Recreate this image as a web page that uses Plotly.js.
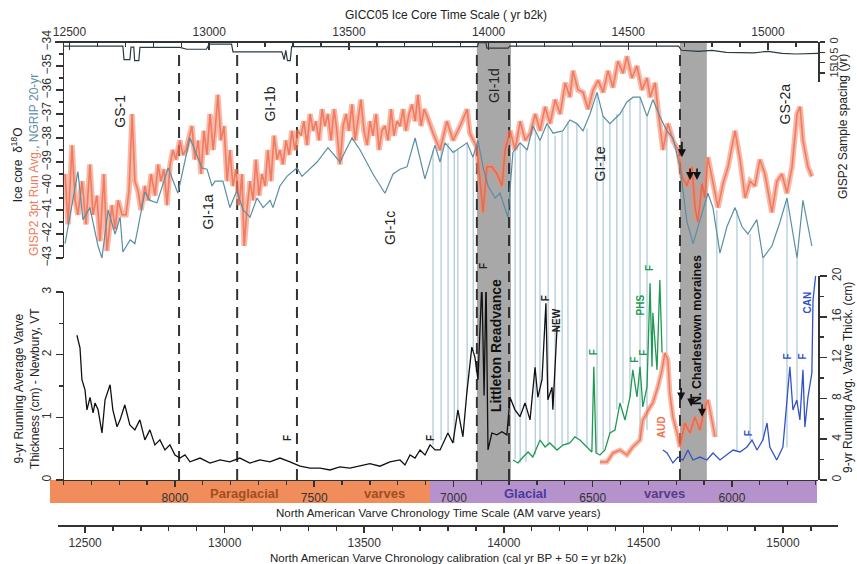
<!DOCTYPE html>
<html><head><meta charset="utf-8">
<script src="https://cdn.plot.ly/plotly-3.0.1.min.js"></script>
<style>html,body{margin:0;padding:0;background:#fff}#chart{width:857px;height:564px}</style>
</head><body><div id="chart"></div>
<script>
// ---------------- DATA ----------------
// GISP2 d18O, 3pt running average (GICC05 yr b2k, permil)
const gispYears = [
12484,12495,12509,12520,12530,12545,12559,12573,12584,12598,
12609,12623,12634,12652,12663,12674,12688,12702,12713,12724,
12734,12745,12756,12770,12781,12792,12806,12817,12827,12838,
12849,12860,12870,12881,12895,12906,12917,12928,12938,12949,
12960,12971,12981,12992,13003,13014,13021,13031,13042,13053,
13064,13074,13085,13096,13107,13117,13125,13135,13146,13157,
13167,13178,13189,13200,13210,13221,13232,13243,13253,13264,
13275,13286,13296,13307,13318,13329,13339,13350,13361,13372,
13382,13393,13404,13414,13425,13436,13447,13457,13468,13479,
13490,13500,13511,13522,13533,13543,13554,13565,13576,13586,
13597,13608,13618,13629,13640,13651,13661,13672,13683,13694,
13704,13715,13726,13737,13747,13758,13769,13780,13801,13826,
13851,13873,13898,13923,13933,13958,13976,13980,13994,14012,
14030,14048,14059,14077,14095,14113,14131,14149,14167,14184,
14202,14220,14238,14256,14274,14291,14302,14320,14338,14356,
14374,14392,14410,14427,14445,14463,14481,14495,14513,14531,
14549,14567,14578,14596,14606,14624,14642,14660,14678,14692,
14710,14728,14739,14749,14764,14774,14785,14803,14821,14839,
14857,14882,14900,14918,14936,14953,14971,14989,15014,15032,
15050,15068,15086,15104,15115,15125,15143,15157];
const gispD18O = [
-39.5,-41.6,-38.3,-40.6,-41.2,-39.8,-41.6,-39.1,-41.2,-40.4,
-42.3,-39.5,-42.7,-40.8,-41.8,-40.6,-41.2,-41.2,-40.2,-37.0,
-39.8,-40.2,-41.0,-40.0,-40.6,-39.5,-40.4,-39.1,-39.8,-39.3,
-40.8,-39.1,-38.5,-38.9,-38.1,-38.7,-38.5,-38.0,-37.5,-38.9,
-38.1,-39.5,-37.7,-38.7,-37.0,-38.5,-37.7,-36.2,-38.1,-37.5,
-39.8,-38.5,-40.0,-39.3,-40.8,-39.5,-42.5,-41.0,-39.8,-40.6,
-38.9,-40.4,-39.5,-40.0,-38.5,-39.8,-37.9,-38.9,-38.5,-39.1,
-38.1,-38.7,-37.7,-38.5,-37.7,-37.9,-37.3,-38.3,-37.0,-37.7,
-37.3,-38.1,-36.8,-37.5,-37.0,-38.1,-36.8,-37.7,-39.1,-37.5,
-37.0,-37.7,-36.6,-38.1,-37.3,-36.4,-37.7,-38.3,-37.3,-37.9,
-37.0,-38.5,-37.7,-37.5,-38.1,-36.8,-37.9,-37.3,-37.5,-36.8,
-37.7,-37.0,-36.6,-37.3,-36.2,-37.5,-36.8,-37.1,-37.8,-38.5,
-37.3,-38.1,-37.5,-36.8,-37.8,-38.4,-40.6,-41.1,-39.2,-39.2,
-39.5,-40.0,-38.5,-37.7,-38.5,-37.3,-38.1,-37.8,-37.0,-37.7,
-36.7,-37.4,-36.4,-37.0,-35.7,-36.3,-35.2,-36.0,-36.1,-36.8,
-36.0,-35.6,-36.1,-35.2,-35.9,-34.8,-35.3,-34.6,-35.5,-35.0,
-36.0,-35.5,-36.3,-35.7,-36.8,-38.5,-37.4,-38.1,-38.5,-39.6,
-40.0,-39.2,-40.9,-41.5,-39.9,-40.5,-38.8,-39.8,-40.9,-39.9,
-39.2,-37.7,-38.9,-40.5,-39.8,-40.0,-38.9,-39.5,-41.1,-39.8,
-39.5,-40.3,-39.2,-37.0,-36.7,-38.1,-39.2,-39.6];

// NGRIP d18O, 20-yr (GICC05 yr b2k, permil)
const ngripYears = [
12484,12530,12548,12573,12602,12616,12638,12663,12681,12691,
12717,12734,12770,12788,12813,12853,12888,12931,12974,12992,
13010,13021,13049,13074,13099,13121,13146,13171,13193,13218,
13228,13253,13278,13314,13332,13386,13425,13468,13511,13540,
13586,13629,13658,13683,13708,13737,13772,13808,13826,13844,
13873,13898,13923,13944,13962,13980,13998,14023,14041,14069,
14087,14113,14138,14159,14184,14209,14231,14266,14291,14316,
14338,14363,14388,14410,14434,14470,14495,14517,14542,14567,
14588,14613,14638,14660,14685,14710,14732,14757,14785,14803,
14828,14853,14882,14907,14928,14960,14982,15014,15043,15068,
15104,15125,15157];
const ngripD18O = [
-42.4,-39.4,-41.4,-40.9,-42.5,-43.0,-41.0,-42.0,-41.3,-42.75,
-42.25,-42.4,-40.25,-40.6,-40.7,-39.25,-40.3,-38.0,-39.25,-39.3,
-40.0,-39.8,-39.8,-40.9,-40.2,-41.0,-41.3,-40.5,-40.9,-40.6,
-40.9,-40.0,-39.6,-39.25,-39.6,-39.0,-38.4,-39.0,-38.0,-38.5,
-39.5,-40.3,-39.5,-39.3,-39.2,-38.0,-39.7,-38.3,-39.0,-38.2,
-38.6,-38.4,-38.2,-38.8,-38.1,-39.2,-40.0,-40.5,-40.3,-41.3,
-38.6,-38.2,-38.5,-37.5,-38.1,-37.4,-37.8,-37.7,-37.25,-37.4,
-37.7,-37.0,-36.1,-37.1,-37.4,-37.0,-36.5,-36.3,-36.3,-37.1,
-36.4,-37.1,-37.7,-38.0,-39.2,-41.5,-42.4,-41.4,-40.3,-40.9,
-42.8,-41.7,-40.9,-41.7,-42.0,-41.4,-43.0,-42.5,-41.5,-40.5,
-43.0,-40.6,-42.5];

// GISP2 sample spacing (yr)
const spacingYears = [12477,12600,12691,12695,12716,12720,12730,12733,12748,12752,
  12895,12920,12990,13000,13080,13085,13260,13268,13274,13280,
  13290,13295,13960,13964,13990,13994,14070,14075,14680,14690,
  14750,14800,14850,14950,15000,15050,15100,15179];
const spacingVals = [2.0,2.2,2.0,8.5,8.5,2.5,2.5,9.0,9.0,2.6,
  2.6,3.5,3.5,1.0,1.0,4.8,4.8,8.5,4.0,9.0,
  9.0,2.2,2.2,0.3,0.3,3.0,3.0,2.0,2.0,4.0,
  4.5,4.0,5.0,5.2,4.5,5.5,5.8,5.5];

// Newbury VT varve thickness, 9-yr running avg (AM varve yr, cm) - left axis
const newYears = [
8352,8341,8334,8323,8316,8305,8294,8287,8276,8262,
8251,8233,8223,8208,8197,8180,8162,8144,8126,8108,
8090,8072,8054,8036,8018,8000,7982,7964,7946,7910,
7874,7838,7803,7767,7731,7695,7659,7623,7587,7551,
7515,7479,7443,7408,7372,7336,7300,7264,7228,7192,
7174,7156,7138,7120,7102,7084,7066,7048,7020,7002,
6984,6966,6952,6934,6923,6912,6898,6890,6883,6876,
6862,6844,6826,6808,6797,6779,6761,6743,6725,6707,
6697,6682,6668,6661,6646,6643,6628];
const newThick = [
2.31,2.11,1.60,1.44,1.12,1.32,1.07,1.23,1.12,0.75,
1.28,1.52,1.12,0.85,0.96,1.20,0.88,0.80,0.96,0.64,
0.80,0.56,0.64,0.48,0.56,0.40,0.35,0.40,0.29,0.35,
0.27,0.32,0.29,0.35,0.27,0.32,0.29,0.35,0.29,0.22,
0.19,0.19,0.16,0.21,0.19,0.22,0.26,0.22,0.29,0.32,
0.24,0.40,0.35,0.48,0.40,0.56,0.48,0.48,0.75,0.59,
1.12,0.69,1.39,2.12,1.96,1.60,3.15,1.35,3.20,0.48,
0.75,0.72,0.77,0.72,1.32,1.12,1.01,1.23,0.96,1.80,
1.32,1.60,2.82,1.28,1.48,1.12,2.44];

// PHS (green), AUD (orange), CAN (blue) - right axis (cm)
const phsYears = [6786,6768,6750,6732,6715,6689,6671,6654,6628,6607,
  6582,6564,6546,6521,6503,6496,6488,6474,6456,6438,
  6420,6402,6384,6366,6356,6341,6330,6320,6305,6294,
  6287,6284,6269,6259,6251];
const phsThick = [1.96,1.67,2.25,2.75,2.25,3.92,3.24,3.63,2.94,3.43,
  3.63,4.22,3.92,3.24,2.75,11.1,2.65,2.45,2.94,4.61,
  4.90,7.55,5.88,8.14,10.8,8.14,11.1,7.16,9.12,19.3,
  11.1,16.4,10.8,19.6,12.5];
const audYears = [6474,6449,6427,6402,6377,6356,6330,6320,6294,6284,
  6266,6251,6241,6230,6223,6212,6197,6187,6169,6151,
  6133,6115,6097,6086,6072,6061];
const audThick = [1.76,1.76,2.65,2.94,2.45,3.24,3.92,5.88,7.16,7.55,
  9.12,10.8,12.45,11.8,8.53,6.18,4.61,3.24,5.59,4.61,
  6.18,4.90,7.16,7.84,5.88,4.22];
const canYears = [6248,6233,6212,6194,6176,6158,6140,6115,6090,6068,
  6043,6018,5996,5971,5946,5928,5910,5889,5874,5864,
  5839,5817,5803,5792,5781,5767,5756,5745,5738,5727,
  5713,5709,5698];
const canThick = [2.94,2.65,1.67,2.25,1.96,2.94,1.96,2.25,1.96,2.65,
  1.96,2.45,2.94,2.75,3.24,3.92,2.94,3.92,5.59,3.24,
  1.96,3.24,7.55,11.1,6.86,7.84,5.88,10.8,5.20,8.14,
  10.5,17.6,20.4];

// tie lines (GICC05 yr), top (d18O) and bottom (cm, right-axis scale)
const tieYears  = [13801,13830,13855,13877,13890,13923,13945,14095,14113,14134,14167,14184,14213,14238,14263,14284,14316,14352,14388,14410,14434,14459,14481,14506,14542,14567,14638,14817,14889,14936,14982,15068,15104];
const tieTop    = [-38.5,-38.4,-38.2,-38.5,-38.5,-38.2,-38.8,-38.5,-38.2,-38.5,-37.7,-38.1,-37.5,-37.9,-37.7,-37.3,-37.4,-37.6,-36.1,-37.1,-37.4,-37.0,-36.8,-36.4,-36.3,-37.1,-37.7,-41.0,-41.0,-42.0,-43.0,-40.5,-43.0];
const tieBottom = [3.4,3.9,4.6,3.6,6.9,8.5,12.7,2.0,1.7,1.8,2.5,3.9,3.4,3.0,3.4,3.4,4.2,3.2,2.6,2.9,4.6,6.9,7.5,8.1,3.9,4.9,12.5,4.2,2.9,3.9,3.9,3.2,7.4];

// event boundaries (dashed) and grey readvance bands (GICC05 yr b2k)
const boundaryYears = [12892,13100,13314,13958,14073,14685];
const bandStarts = [13958,14685];
const bandEnds   = [14080,14781];

// stadial/interstadial labels
const eventNames = ['GS-1','GI-1a','GI-1b','GI-1c','GI-1d','GI-1e','GS-2a'];
const eventYears = [12681,12996,13218,13647,14019,14399,15061];
const eventD18O  = [-36.9,-41.1,-36.6,-41.75,-35.8,-39.1,-36.6];

// arrows (moraines)
const arrowTopYears = [14692,14721,14746];
const arrowTopD18O  = [-38.8,-39.75,-39.75];
const arrowBotYears = [14689,14725,14764];
const arrowBotCm    = [7.8,7.2,6.2];

// ---------------- LAYOUT GEOMETRY ----------------
const D18O_RANGE = [-43,-34];
const TOP_DOM = [0.55165,0.99793];
const BOT0 = 0.09298;
const LEFT_BOT_DOM = [BOT0,0.48140];
const RIGHT_BOT_DOM = [BOT0,0.51446];
const CM_RANGE = [0,20];
const Y5TOP = CM_RANGE[1]*(TOP_DOM[0]-BOT0)/(RIGHT_BOT_DOM[1]-BOT0);
const XL = 0.010217, XR = 0.97446;
const FONT = 'Liberation Sans, Arial, Helvetica, sans-serif';
const AX = '#333';

const tieUpX=[], tieUpY=[], tieLoX=[], tieLoY=[];
tieYears.forEach((yr,i)=>{
  tieUpX.push(yr,yr,null); tieUpY.push(tieTop[i], D18O_RANGE[0], null);
  tieLoX.push(yr,yr,null); tieLoY.push(tieBottom[i], Y5TOP, null);
});

const HALO = 'rgba(244,140,110,0.6)', CORE = 'rgba(236,80,50,0.6)', TIE = '#aac7d8';
const traces = [
  {x:tieUpX,y:tieUpY,xaxis:'x',yaxis:'y',mode:'lines',line:{color:TIE,width:1.2},hoverinfo:'skip'},
  {x:tieLoX,y:tieLoY,xaxis:'x',yaxis:'y5',mode:'lines',line:{color:TIE,width:1.2},hoverinfo:'skip'},
  {x:gispYears,y:gispD18O,xaxis:'x',yaxis:'y',mode:'lines',line:{color:HALO,width:5.5}},
  {x:gispYears,y:gispD18O,xaxis:'x',yaxis:'y',mode:'lines',line:{color:CORE,width:1.6}},
  {x:ngripYears,y:ngripD18O,xaxis:'x',yaxis:'y',mode:'lines',line:{color:'#5b8ea4',width:1.2}},
  {x:spacingYears,y:spacingVals,xaxis:'x',yaxis:'y2',mode:'lines',line:{color:'#2a3a40',width:1.2}},
  {x:newYears,y:newThick,xaxis:'x2',yaxis:'y3',mode:'lines',line:{color:'#111',width:1.3}},
  {x:audYears,y:audThick,xaxis:'x2',yaxis:'y4',mode:'lines',line:{color:HALO,width:5}},
  {x:audYears,y:audThick,xaxis:'x2',yaxis:'y4',mode:'lines',line:{color:CORE,width:1.5}},
  {x:phsYears,y:phsThick,xaxis:'x2',yaxis:'y4',mode:'lines',line:{color:'#1e9a52',width:1.3}},
  {x:canYears,y:canThick,xaxis:'x2',yaxis:'y4',mode:'lines',line:{color:'#3352c8',width:1.3}},
  {x:[],y:[],xaxis:'x3',yaxis:'y3',mode:'lines'}
];

const shapes = [];
bandStarts.forEach((s,i)=>shapes.push({type:'rect',xref:'x',yref:'paper',x0:s,x1:bandEnds[i],y0:BOT0,y1:1,fillcolor:'#a8a8a8',line:{width:0},layer:'below'}));
boundaryYears.forEach(yr=>shapes.push({type:'line',xref:'x',yref:'paper',x0:yr,x1:yr,y0:BOT0,y1:0.985,line:{color:'#333',width:2,dash:'11px,7px'},layer:'below'}));
// chronology bands beneath varve axis
shapes.push({type:'rect',xref:'paper',yref:'paper',x0:-0.0064,x1:0.4789,y0:0.0455,y1:BOT0,fillcolor:'#f18d5b',line:{width:0},layer:'below'});
shapes.push({type:'rect',xref:'paper',yref:'paper',x0:0.4789,x1:0.9732,y0:0.0455,y1:BOT0,fillcolor:'#b592cb',line:{width:0},layer:'below'});

const ann = [];
function txt(o){ ann.push(Object.assign({showarrow:false,xanchor:'center',yanchor:'middle',font:{family:FONT,size:12,color:'#222'}},o)); }
txt({xref:'paper',yref:'paper',x:0.4994,y:1.0537,text:'GICC05 Ice Core Time Scale ( yr b2k)'});
txt({xref:'paper',yref:'paper',x:0.4904,y:0.0248,text:'North American Varve Chronology Time Scale (AM varve years)',font:{family:FONT,size:11.5,color:'#222'}});
txt({xref:'paper',yref:'paper',x:0.5019,y:-0.0682,text:'North American Varve Chronology calibration (cal yr BP + 50 = yr b2k)',font:{family:FONT,size:11.5,color:'#222'}});
txt({xref:'paper',yref:'paper',x:-0.0383,y:0.7438,textangle:-90,
  text:'Ice core  δ<sup>18</sup>O<br><span style="color:#f07a5a">GISP2 3pt Run Avg.</span><span style="color:#5b8ea4">, NGRIP 20-yr</span>'});
txt({xref:'paper',yref:'paper',x:-0.0358,y:0.2831,textangle:-90,text:'9-yr Running Average Varve<br>Thickness (cm) - Newbury, VT'});
txt({xref:'paper',yref:'paper',x:1.0064,y:0.8223,textangle:-90,text:'GISP2 Sample spacing (yr)'});
txt({xref:'paper',yref:'paper',x:1.0128,y:0.3037,textangle:-90,text:'9-yr Running Avg. Varve Thick. (cm)'});
// chronology band labels
txt({xref:'x2',yref:'paper',x:7749,y:0.066,text:'<b>Paraglacial</b>',font:{family:FONT,size:13,color:'#a04e1e'}});
txt({xref:'x2',yref:'paper',x:7246,y:0.066,text:'<b>varves</b>',font:{family:FONT,size:13,color:'#a04e1e'}});
txt({xref:'x2',yref:'paper',x:6743,y:0.066,text:'<b>Glacial</b>',font:{family:FONT,size:13,color:'#4a3aa0'}});
txt({xref:'x2',yref:'paper',x:6241,y:0.066,text:'<b>varves</b>',font:{family:FONT,size:13,color:'#5a3a8a'}});
// event labels
eventNames.forEach((n,i)=>txt({xref:'x',yref:'y',x:eventYears[i],y:eventD18O[i],text:n,textangle:-90,font:{family:FONT,size:14,color:'#222'}}));
txt({xref:'x',yref:'y3',x:14026,y:2.15,text:'<b>Littleton Readvance</b>',textangle:-90,font:{family:FONT,size:14,color:'#111'}});
txt({xref:'x',yref:'y4',x:14746,y:14.7,text:'<b>N. Charlestown moraines</b>',textangle:-90,font:{family:FONT,size:12.5,color:'#111'}});
// varve record labels (y5 shares the right-axis cm scale but extends above 20)
const lab = (x,y,t,c,yr)=>txt({xref:'x2',yref:yr,x:x,y:y,text:'<b>'+t+'</b>',textangle:-90,font:{family:FONT,size:10,color:c}});
lab(7598,0.67,'F','#222','y3'); lab(7084,0.67,'F','#222','y3'); lab(6890,21.0,'F','#222','y5');
lab(6671,2.9,'F','#222','y3'); lab(6632,2.55,'NEW','#222','y3');
lab(6496,12.5,'F','#1e9a52','y4'); lab(6348,11.8,'F','#1e9a52','y4'); lab(6320,12.45,'F','#1e9a52','y4');
lab(6294,20.8,'F','#1e9a52','y5'); lab(6327,17.2,'PHS','#1e9a52','y4');
lab(6251,5.2,'AUD','#f07050','y4');
lab(5942,4.6,'F','#3352c8','y4'); lab(5799,12.1,'F','#3352c8','y4'); lab(5745,12.1,'F','#3352c8','y4');
lab(5727,17.4,'CAN','#3352c8','y4');
// arrows
arrowTopYears.forEach((x,i)=>ann.push({xref:'x',yref:'y',x:x,y:arrowTopD18O[i],ax:0,ay:i===0?-17:-13,text:'',showarrow:true,arrowhead:2,arrowsize:1,arrowwidth:1.6,arrowcolor:'#111'}));
arrowBotYears.forEach((x,i)=>ann.push({xref:'x',yref:'y4',x:x,y:arrowBotCm[i],ax:0,ay:-14,text:'',showarrow:true,arrowhead:2,arrowsize:1,arrowwidth:1.6,arrowcolor:'#111'}));

const axBase = {showline:true,linecolor:AX,linewidth:1.5,tickcolor:AX,tickwidth:1.5,showgrid:false,zeroline:false,
  tickfont:{family:FONT,size:12,color:'#333'},fixedrange:true};
const layout = {
  width:857,height:564,margin:{l:55,r:19,t:41,b:39},
  paper_bgcolor:'#fff',plot_bgcolor:'rgba(0,0,0,0)',showlegend:false,
  font:{family:FONT,size:12,color:'#333'},
  xaxis:Object.assign({},axBase,{domain:[0,XR],range:[12448,15179],side:'top',anchor:'free',position:1,
    ticks:'inside',ticklen:7,dtick:500,tickformat:'d',minor:{dtick:100,ticks:'inside',ticklen:4,tickcolor:AX,tickwidth:1.3}}),
  xaxis2:Object.assign({},axBase,{domain:[XL,XR],range:[8402,5691],side:'bottom',anchor:'free',position:BOT0,
    ticks:'outside',ticklen:6,dtick:500,tickformat:'d',minor:{dtick:100,ticks:'outside',ticklen:4,tickcolor:AX,tickwidth:1.3}}),
  xaxis3:Object.assign({},axBase,{domain:[0.00383,1],range:[12403,15197],side:'bottom',anchor:'free',position:0,
    ticks:'outside',ticklen:6,dtick:500,tickformat:'d',minor:{dtick:100,ticks:'outside',ticklen:4,tickcolor:AX,tickwidth:1.3}}),
  yaxis:Object.assign({},axBase,{domain:TOP_DOM,range:D18O_RANGE,anchor:'free',position:XL,side:'left',
    ticks:'outside',ticklen:7,dtick:1,tickangle:-90,minor:{dtick:0.5,ticks:'outside',ticklen:4,tickcolor:AX}}),
  yaxis2:Object.assign({},axBase,{domain:[0.91529,0.99793],range:[19.3,0],anchor:'free',position:XR,side:'right',
    ticks:'outside',ticklen:5,tickvals:[0,5,10,15],tickangle:-90,tickfont:{family:FONT,size:11,color:'#333'}}),
  yaxis3:Object.assign({},axBase,{domain:LEFT_BOT_DOM,range:[0,3],anchor:'free',position:XL,side:'left',
    ticks:'outside',ticklen:7,dtick:1,tickangle:-90,minor:{dtick:0.5,ticks:'outside',ticklen:4,tickcolor:AX}}),
  yaxis4:Object.assign({},axBase,{domain:RIGHT_BOT_DOM,range:CM_RANGE,anchor:'free',position:XR,side:'right',
    ticks:'outside',ticklen:7,dtick:4,tickangle:-90,minor:{dtick:2,ticks:'outside',ticklen:4,tickcolor:AX}}),
  yaxis5:{domain:[BOT0,TOP_DOM[0]],range:[0,Y5TOP],anchor:'free',position:XL,visible:false,fixedrange:true},
  shapes:shapes,annotations:ann
};
Plotly.newPlot('chart',traces,layout,{displayModeBar:false,staticPlot:true});
</script></body></html>
